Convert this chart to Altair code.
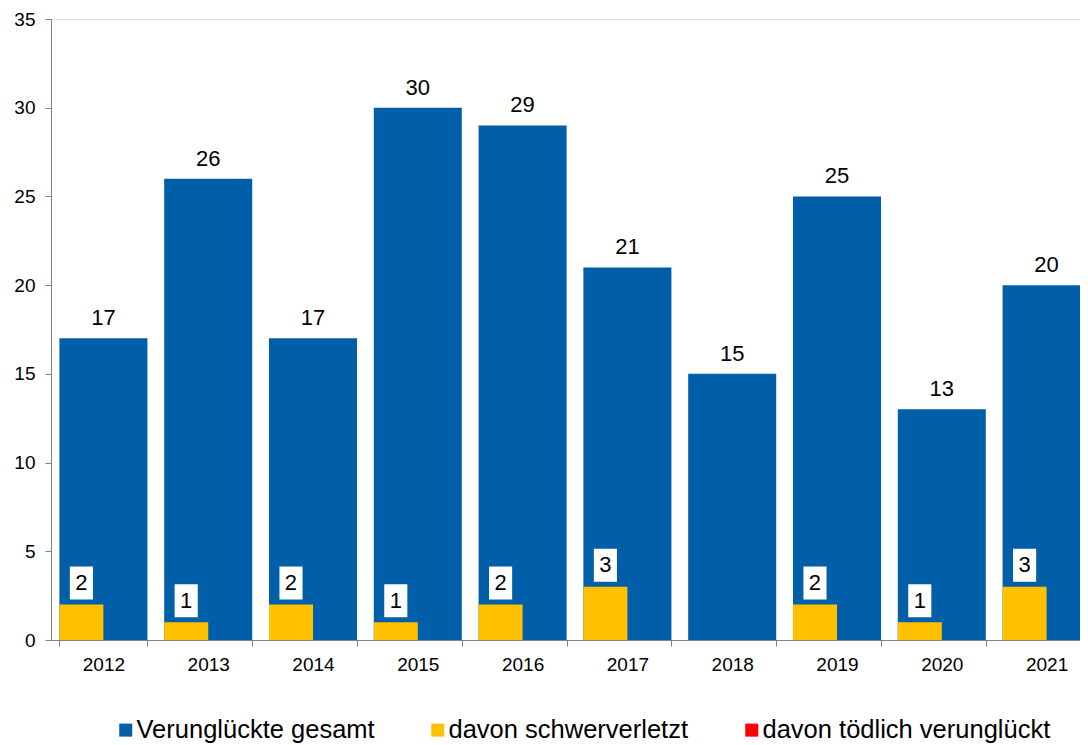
import altair as alt
import pandas as pd

years = ["2012", "2013", "2014", "2015", "2016", "2017", "2018", "2019", "2020", "2021"]
gesamt = [17, 26, 17, 30, 29, 21, 15, 25, 13, 20]
schwer = [2, 1, 2, 1, 2, 3, 0, 2, 1, 3]
toedlich = [0, 0, 0, 0, 0, 0, 0, 0, 0, 0]
series_names = ["Verunglückte gesamt", "davon schwerverletzt", "davon tödlich verunglückt"]
colors = ["#005FA8", "#FFC000", "#FF0000"]
y_ticks = [0, 5, 10, 15, 20, 25, 30, 35]

rows = []
for name, vals in zip(series_names, [gesamt, schwer, toedlich]):
    for yr, v in zip(years, vals):
        rows.append({"year": yr, "series": name, "value": v})
df = pd.DataFrame(rows)

FONT = "Liberation Sans"
AX = "#808080"

x = alt.X(
    "year:O",
    scale=alt.Scale(domain=years, paddingInner=0.16, paddingOuter=0.08),
    axis=alt.Axis(
        title=None, labelAngle=0, tickBand="extent", labelFontSize=19, labelFont=FONT,
        labelColor="black", tickSize=6, labelPadding=9, domainColor=AX, tickColor=AX,
        domainWidth=1, tickWidth=1,
    ),
)
y = alt.Y(
    "value:Q",
    scale=alt.Scale(domain=[0, 35], nice=False),
    axis=alt.Axis(
        title=None, values=y_ticks, grid=False, labelFontSize=19, labelFont=FONT,
        labelColor="black", tickSize=6, labelPadding=10, domainColor=AX, tickColor=AX,
        domainWidth=1, tickWidth=1,
    ),
)
color = alt.Color(
    "series:N",
    scale=alt.Scale(domain=series_names, range=colors),
    legend=alt.Legend(
        title=None, orient="none", legendX=62, legendY=698, direction="horizontal",
        symbolType="square", symbolSize=169, symbolStrokeWidth=0, symbolOpacity=1,
        labelFontSize=25.5, labelFont=FONT, labelColor="black", labelLimit=600,
        columnPadding=50, labelOffset=alt.ExprRef(expr="-2"), padding=0,
    ),
)
xoff = alt.XOffset(
    "series:N",
    scale=alt.Scale(domain=series_names[1:], paddingInner=0, paddingOuter=0),
)

base = alt.Chart(df)

blue = base.transform_filter(alt.datum.series == series_names[0]).mark_bar().encode(
    x=x, y=y, color=color
)
small = base.transform_filter(alt.datum.series != series_names[0]).mark_bar().encode(
    x=x, xOffset=xoff, y=y, color=color
)
blue_text = base.transform_filter(alt.datum.series == series_names[0]).mark_text(
    dy=-13, baseline="alphabetic", fontSize=22, font=FONT, color="black"
).encode(x=x, y=y, text="value:Q")

yellow_lab = base.transform_filter(
    (alt.datum.series == series_names[1]) & (alt.datum.value > 0)
)
box = yellow_lab.mark_point(
    shape="M-0.7,-1L0.7,-1L0.7,1L-0.7,1Z", size=1089, filled=True, fill="white",
    opacity=1, strokeWidth=0, yOffset=-21.5
).encode(x=x, xOffset=xoff, y=y)
box_text = yellow_lab.mark_text(
    dy=-21.5, baseline="middle", fontSize=22, font=FONT, color="black"
).encode(x=x, xOffset=xoff, y=y, text="value:Q")

chart = (
    alt.layer(blue, small, blue_text, box, box_text)
    .properties(
        width=1048, height=621,
        autosize=alt.AutoSizeParams(type="none"),
        padding={"left": 43, "top": 11, "right": -19, "bottom": 105},
    )
    .configure_view(stroke=None)
    .configure(background="white")
)

chart.save("out.html", embed_options={"renderer": "svg", "actions": False})
